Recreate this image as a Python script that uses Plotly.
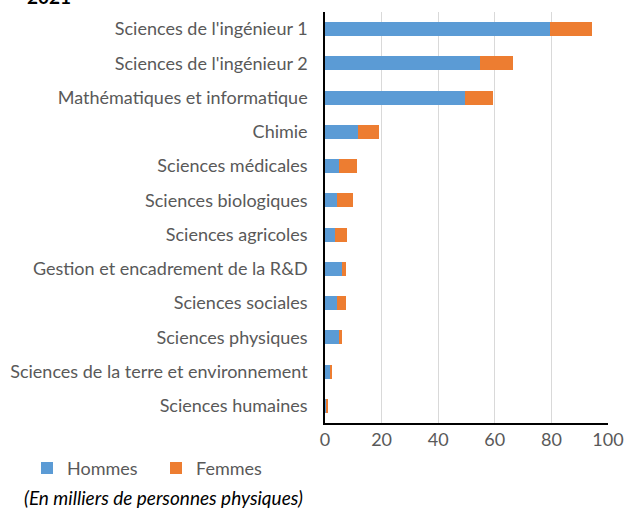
import plotly.graph_objects as go

categories = [
    "Sciences de l'ingénieur 1",
    "Sciences de l'ingénieur 2",
    "Mathématiques et informatique",
    "Chimie",
    "Sciences médicales",
    "Sciences biologiques",
    "Sciences agricoles",
    "Gestion et encadrement de la R&D",
    "Sciences sociales",
    "Sciences physiques",
    "Sciences de la terre et environnement",
    "Sciences humaines",
]
hommes = [79.5, 54.8, 49.5, 11.6, 5.0, 4.4, 3.6, 5.9, 4.4, 5.0, 1.8, 0.7]
femmes = [14.8, 11.6, 9.7, 7.4, 6.4, 5.5, 4.1, 1.4, 2.9, 0.9, 0.8, 0.4]
x_ticks = [0, 20, 40, 60, 80, 100]

FONT = "Lato"
GREY = "#595959"

fig = go.Figure()
fig.add_trace(go.Bar(y=categories, x=hommes, name="Hommes", orientation="h",
                     marker=dict(color="#5B9BD5", line=dict(width=0))))
fig.add_trace(go.Bar(y=categories, x=femmes, name="Femmes", orientation="h",
                     marker=dict(color="#ED7D31", line=dict(width=0))))

fig.update_layout(
    barmode="stack",
    bargap=0.59,
    width=626, height=508,
    paper_bgcolor="white", plot_bgcolor="white",
    margin=dict(l=325, r=18, t=12, b=85, autoexpand=False),
    font=dict(family=FONT, size=18, color=GREY),
    showlegend=True,
    legend=dict(orientation="h", x=-1.053, xanchor="left", y=-0.11, yanchor="middle",
                font=dict(family=FONT, size=18, color=GREY),
                itemwidth=30, entrywidth=84, traceorder="normal",
                bgcolor="rgba(0,0,0,0)"),
    xaxis=dict(range=[0, 100], tickvals=x_ticks, showgrid=True, gridcolor="#d9d9d9",
               gridwidth=1, showline=True, linecolor="black", linewidth=1.5,
               zeroline=False, ticks="", tickfont=dict(family=FONT, size=18, color=GREY),
               automargin=False),
    yaxis=dict(categoryorder="array", categoryarray=categories, autorange="reversed",
               showline=True, linecolor="black", linewidth=1.5, ticks="",
               tickfont=dict(family=FONT, size=18, color=GREY), ticklabelstandoff=12,
               automargin=False),
)

fig.add_annotation(text="<b>2021</b>", xref="paper", yref="paper", x=-1.06, y=1.005,
                   xanchor="left", yanchor="bottom", showarrow=False,
                   font=dict(family=FONT, size=19, color="black"))
fig.add_annotation(text="<i>(En milliers de personnes physiques)</i>", xref="paper", yref="paper",
                   x=-1.07, y=-0.182, xanchor="left", yanchor="middle", showarrow=False,
                   font=dict(family=FONT, size=19, color="black"))
fig.add_annotation(text="Source : MESRS-DGRS", xref="paper", yref="paper",
                   x=0.42, y=-0.195, xanchor="left", yanchor="top", showarrow=False,
                   font=dict(family=FONT, size=18, color="black"))

fig.write_html("out.html", config={"displayModeBar": False},
               post_script="document.body.style.margin='0';")
